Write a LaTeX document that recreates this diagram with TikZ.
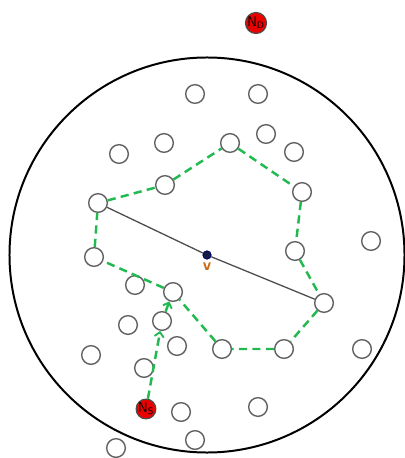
\documentclass[tikz,border=0pt]{standalone}
\usepackage{tikz}
\usetikzlibrary{arrows.meta,positioning}
\definecolor{hopgreen}{RGB}{34,185,80}
\definecolor{vbrown}{RGB}{200,105,20}
\definecolor{vnavy}{RGB}{20,30,60}

\begin{document}
\begin{tikzpicture}[x=0.03cm,y=-0.03cm,>={Straight Barb[length=4pt,width=8pt,line width=1.6pt]},
  sn/.style={circle,draw=black!62,line width=1.2pt,minimum size=0.56cm,inner sep=0pt},
  rn/.style={circle,draw=black!70,fill=red!92!black,line width=1pt,minimum size=0.56cm,inner sep=0pt,font=\large\sffamily},
  hop/.style={draw=hopgreen,line width=2.1pt,dash pattern=on 7pt off 4.5pt},
  dia/.style={draw=black!70,line width=1.1pt}]
  \useasboundingbox (0,0) rectangle (405,458);
  % radio range
  \node[draw,circle,line width=1.7pt,minimum size=11.85cm,inner sep=0pt] (range) at (207,255) {};
  % nodes on the route
  \node[sn] (p1) at (98,203) {};
  \node[sn] (p2) at (165,185) {};
  \node[sn] (p3) at (230,143) {};
  \node[sn] (p4) at (302,192) {};
  \node[sn] (p5) at (295,251) {};
  \node[sn] (p6) at (324,303) {};
  \node[sn] (p7) at (284,349) {};
  \node[sn] (p8) at (222,349) {};
  \node[sn] (p9) at (173,292) {};
  \node[sn] (p10) at (94,257) {};
  \node[sn] (relay) at (162,321) {};
  % other nodes
  \node[sn] (o1) at (195,94) {};
  \node[sn] (o2) at (258,94) {};
  \node[sn] (o3) at (119,154) {};
  \node[sn] (o4) at (164,143) {};
  \node[sn] (o5) at (266,134) {};
  \node[sn] (o6) at (294,152) {};
  \node[sn] (o7) at (371,241) {};
  \node[sn] (o8) at (135,285) {};
  \node[sn] (o9) at (128,325) {};
  \node[sn] (o10) at (177,346) {};
  \node[sn] (o11) at (91,355) {};
  \node[sn] (o12) at (362,349) {};
  \node[sn] (o13) at (144,368) {};
  \node[sn] (o14) at (181,412) {};
  \node[sn] (o15) at (258,407) {};
  \node[sn] (o16) at (195,440) {};
  \node[sn] (o17) at (116,448) {};
  % source and destination
  \node[rn] (nd) at (256,23) {N\textsubscript{D}};
  \node[rn] (ns) at (146,409) {N\textsubscript{S}};
  % centre
  \node[circle,fill=vnavy,draw=blue!45!black,line width=0.8pt,minimum size=7pt,inner sep=0pt] (v) at (207,255) {};
  \node[below=-1pt of v,font=\Large\sffamily\bfseries,text=vbrown] (vlab) {v};
  \draw[dia] (p1) -- (v) -- (p6);
  \draw[hop] (p1) -- (p2) -- (p3) -- (p4) -- (p5) -- (p6) -- (p7) -- (p8) -- (p9) -- (p10) -- (p1);
  \draw[hop,->] (ns) -- (relay);
  \draw[hop,->] (relay) -- (p9);
\end{tikzpicture}
\end{document}
